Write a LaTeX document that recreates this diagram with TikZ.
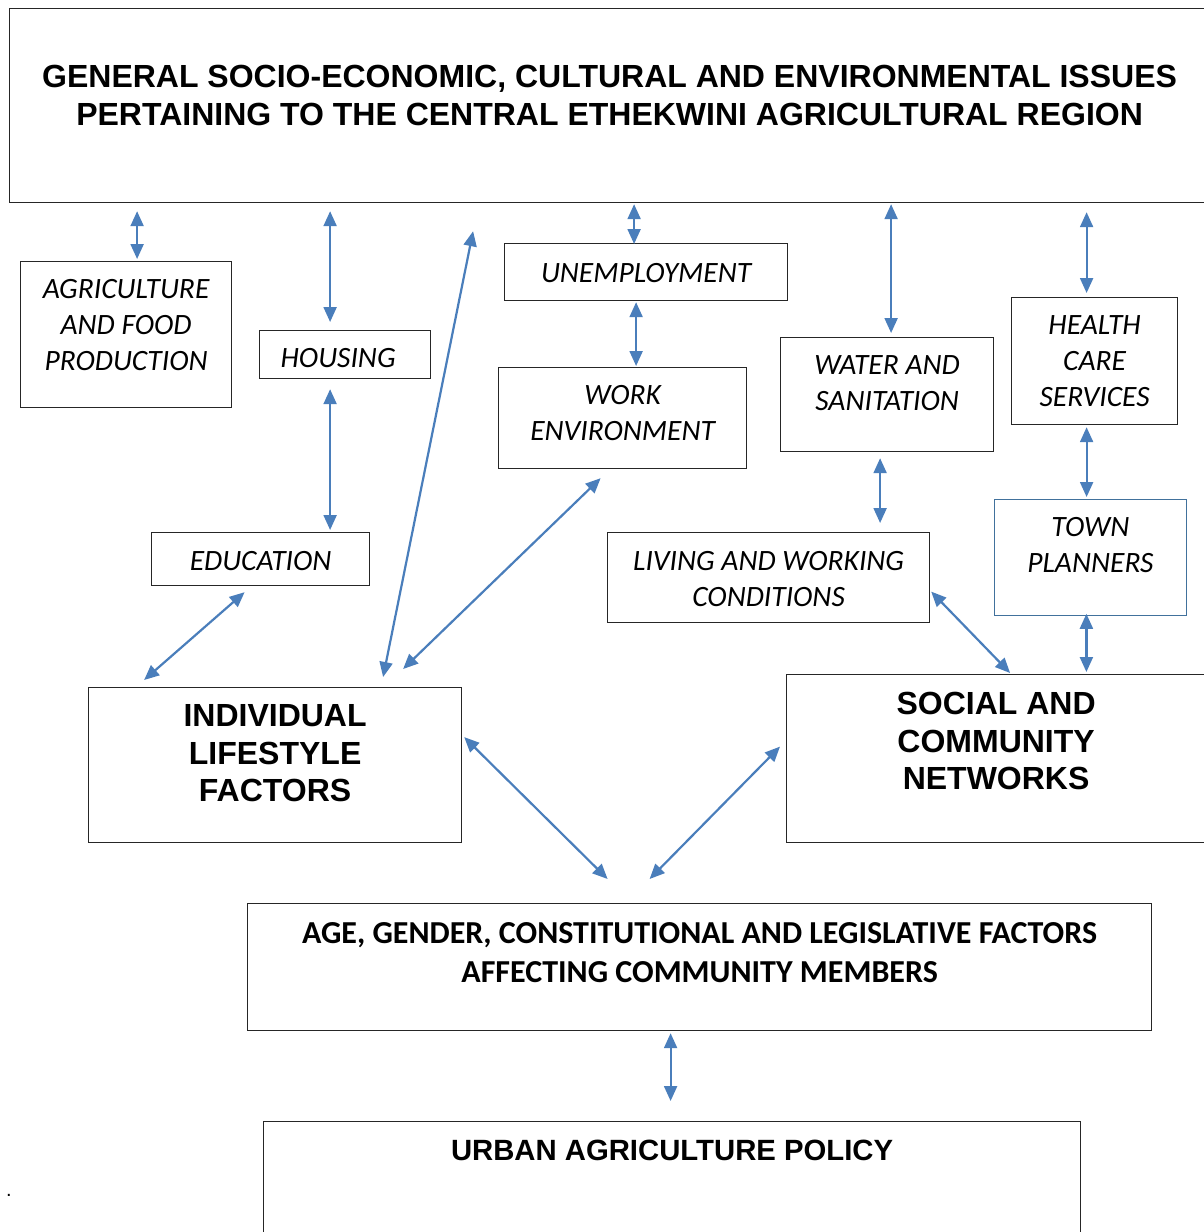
\documentclass[tikz,border=0pt]{standalone}
\usepackage{fontspec}
\usetikzlibrary{positioning}
\usetikzlibrary{calc}
\usetikzlibrary{arrows.meta}
\newfontfamily\headfont{Liberation Sans}
\newfontfamily\calibri{Carlito}
\definecolor{linkblue}{RGB}{74,126,187}
\definecolor{townedge}{RGB}{65,113,156}

\begin{document}
\begin{tikzpicture}
[x=1pt,y=-1pt,
 box/.style={shape=rectangle,draw=black!85,line width=1.2pt,inner sep=0pt,anchor=north west,align=flush center},
 heading/.style={box,font=\headfont\bfseries\fontsize{32}{37.5}\selectfont},
 policy/.style={box,font=\headfont\bfseries\fontsize{29.3}{35}\selectfont},
 factor/.style={box,font=\calibri\itshape\fontsize{29.5}{36}\selectfont},
 legal/.style={box,font=\calibri\bfseries\fontsize{32}{39}\selectfont},
 link/.style={draw=linkblue,line width=2.2pt,{Triangle[length=15pt,width=13pt]}-{Triangle[length=15pt,width=13pt]}}]

\useasboundingbox (0,0) rectangle (1203,1232);

\draw (9,8) node (top) [heading,text width=1200pt,text height=79pt,text depth=115pt]
	{GENERAL SOCIO-ECONOMIC, CULTURAL AND ENVIRONMENTAL ISSUES\\PERTAINING TO THE CENTRAL ETHEKWINI AGRICULTURAL REGION};

\draw (20,261) node (agri) [factor,text width=211pt,text height=37pt,text depth=109pt] {AGRICULTURE\\AND FOOD\\PRODUCTION};
\draw (259,330) node (housing) [factor,text width=171pt,text height=37pt,text depth=11pt] {\makebox[129pt][l]{HOUSING}};
\draw (504,243) node (unemp) [factor,text width=283pt,text height=39pt,text depth=18pt] {UNEMPLOYMENT};
\draw (498,367) node (work) [factor,text width=248pt,text height=37pt,text depth=64pt] {WORK\\ENVIRONMENT};
\draw (780,337) node (water) [factor,text width=213pt,text height=37pt,text depth=77pt] {WATER AND\\SANITATION};
\draw (1011,297) node (health) [factor,text width=166pt,text height=37pt,text depth=90pt] {HEALTH\\CARE\\SERVICES};
\draw (994,499) node (town) [factor,draw=townedge,line width=0.8pt,text width=192pt,text height=37pt,text depth=79pt] {TOWN\\PLANNERS};
\draw (151,532) node (education) [factor,text width=218pt,text height=38pt,text depth=15pt] {EDUCATION};
\draw (607,532) node (living) [factor,text width=322pt,text height=38pt,text depth=52pt] {LIVING AND WORKING\\CONDITIONS};

\draw (88,687) node (individual) [heading,text width=373pt,text height=39pt,text depth=116pt] {INDIVIDUAL\\LIFESTYLE\\FACTORS};
\draw (786,674) node (social) [heading,text width=419pt,text height=40pt,text depth=128pt] {SOCIAL AND\\COMMUNITY\\NETWORKS};

\draw (247,903) node (age) [legal,text width=904pt,text height=40pt,text depth=87pt]
	{AGE, GENDER, CONSTITUTIONAL AND LEGISLATIVE FACTORS\\AFFECTING COMMUNITY MEMBERS};
\draw (263,1121) node (urban) [policy,text width=817pt,text height=39pt,text depth=85pt] {URBAN AGRICULTURE POLICY};

\draw (9,1195) node (stop) [font=\headfont\fontsize{20}{20}\selectfont] {.};

\draw [link] ($(top.south -| agri.north)+(11,8)$) -- ($(agri.north)+(11,-2)$);
\draw [link] ($(top.south -| housing.north)+(-15,8)$) -- ($(housing.north)+(-15,-8)$);
\draw [link] ($(housing.south)+(-15,10)$) -- ($(housing.south |- education.north)+(-15,-2)$);
\draw [link] ($(individual.north)+(108,-10)$) -- ($(individual.north |- top.south)+(198,28)$);
\draw [link] ($(work.south)+(-22,9)$) -- ($(individual.north)+(128,-18)$);
\draw [link] ($(education.south)+(-16,6)$) -- ($(individual.north)+(-131,-7)$);

\draw [link] ($(top.south -| unemp.north)+(-12,1)$) -- ($(unemp.north)+(-12,1)$);
\draw [link] ($(unemp.south)+(-10,1)$) -- ($(unemp.south |- work.north)+(-10,-1)$);
\draw [link] ($(top.south -| water.north)+(4,1)$) -- ($(water.north)+(4,-4)$);
\draw [link] ($(water.south)+(-7,6)$) -- ($(water.south |- living.north)+(-7,-9)$);
\draw [link] ($(top.south -| health.north)+(-8,9)$) -- ($(health.north)+(-8,-4)$);
\draw [link] ($(health.south)+(-8,2)$) -- ($(health.south |- town.north)+(-8,-2)$);
\draw [link] ($(town.south)+(-4,-2)$) -- ($(town.south |- social.north)+(-4,-2)$);
\draw [link] ($(living.east)+(1,14)$) -- ($(social.north)+(14,-1)$);

\draw [link] ($(individual.east)+(2,-28)$) -- ($(age.north)+(-92,-24)$);
\draw [link] ($(social.west)+(-6,-12)$) -- ($(age.north)+(-50,-24)$);
\draw [link] ($(age.south)+(-29,2)$) -- ($(age.south |- urban.north)+(-29,-20)$);

\end{tikzpicture}
\end{document}
